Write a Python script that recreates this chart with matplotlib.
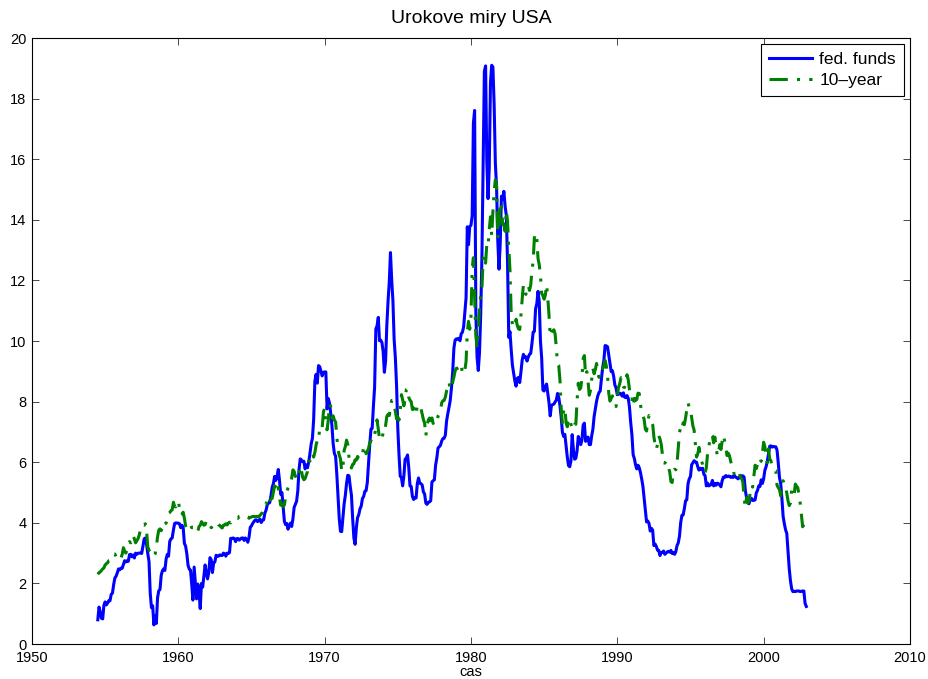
import numpy as np
import pandas as pd
import matplotlib
matplotlib.use("Agg")
import matplotlib.pyplot as plt

plt.rcParams['font.family'] = ['Liberation Sans', 'DejaVu Sans']

# Monthly effective federal funds rate, Jul 1954 - Dec 2002 (percent)
fed_start = '1954-07'
fed_funds = [
    0.80, 1.22, 1.06, 0.85, 0.83, 1.28,
    1.39, 1.29, 1.35, 1.43, 1.43, 1.64, 1.68, 1.96, 2.18, 2.24, 2.35, 2.48,
    2.45, 2.50, 2.50, 2.62, 2.75, 2.71, 2.75, 2.73, 2.95, 2.96, 2.88, 2.94,
    2.84, 3.00, 2.96, 3.00, 3.00, 3.00, 2.99, 3.24, 3.47, 3.50, 3.28, 2.98,
    2.72, 1.67, 1.20, 1.26, 0.63, 0.93, 0.68, 1.53, 1.76, 1.80, 2.27, 2.42,
    2.48, 2.43, 2.80, 2.96, 2.90, 3.39, 3.47, 3.50, 3.76, 3.98, 4.00, 3.99,
    3.99, 3.97, 3.84, 3.92, 3.85, 3.32, 3.23, 2.98, 2.60, 2.47, 2.44, 1.98,
    1.45, 2.54, 2.02, 1.49, 1.98, 1.73, 1.17, 2.00, 1.88, 2.26, 2.61, 2.33,
    2.15, 2.37, 2.85, 2.78, 2.36, 2.68, 2.71, 2.93, 2.90, 2.90, 2.94, 2.93,
    2.92, 3.00, 2.98, 2.90, 3.00, 2.99, 3.02, 3.49, 3.48, 3.50, 3.48, 3.38,
    3.48, 3.48, 3.43, 3.47, 3.50, 3.50, 3.42, 3.50, 3.45, 3.36, 3.52, 3.85,
    3.90, 3.98, 4.04, 4.09, 4.10, 4.04, 4.09, 4.12, 4.01, 4.08, 4.10, 4.32,
    4.42, 4.60, 4.65, 4.67, 4.90, 5.17, 5.30, 5.53, 5.40, 5.53, 5.76, 5.40,
    4.94, 5.00, 4.53, 4.05, 3.94, 3.98, 3.79, 3.90, 3.99, 3.88, 4.13, 4.51,
    4.61, 4.71, 5.05, 5.76, 6.11, 6.07, 6.02, 6.03, 5.78, 5.91, 5.82, 6.02,
    6.30, 6.61, 6.79, 7.41, 8.67, 8.90, 8.61, 9.19, 9.15, 9.00, 8.85, 8.97,
    8.98, 8.98, 7.76, 8.10, 7.95, 7.61, 7.21, 6.61, 6.29, 6.20, 5.60, 4.90,
    4.14, 3.72, 3.71, 4.16, 4.63, 4.91, 5.31, 5.57, 5.55, 5.20, 4.91, 4.14,
    3.50, 3.29, 3.83, 4.17, 4.27, 4.46, 4.55, 4.80, 4.87, 5.04, 5.06, 5.33,
    5.94, 6.58, 7.09, 7.12, 7.84, 8.49, 10.40, 10.50, 10.78, 10.01, 10.03, 9.95,
    9.65, 8.97, 9.35, 10.51, 11.31, 11.93, 12.92, 12.01, 11.34, 10.06, 9.45, 8.53,
    7.13, 6.24, 5.54, 5.49, 5.22, 5.55, 6.10, 6.14, 6.24, 5.82, 5.22, 5.20,
    4.87, 4.77, 4.84, 4.82, 5.29, 5.48, 5.31, 5.29, 5.25, 5.02, 4.95, 4.65,
    4.61, 4.68, 4.69, 4.73, 5.35, 5.39, 5.42, 5.90, 6.14, 6.47, 6.51, 6.56,
    6.70, 6.78, 6.79, 6.89, 7.36, 7.60, 7.81, 8.04, 8.45, 8.96, 9.76, 10.03,
    10.07, 10.06, 10.09, 10.01, 10.24, 10.29, 10.47, 10.94, 11.43, 13.77, 13.18, 13.78,
    13.82, 14.13, 17.19, 17.61, 10.98, 9.47, 9.03, 9.61, 10.87, 12.81, 15.85, 18.90,
    19.08, 15.93, 14.70, 15.72, 18.52, 19.10, 19.04, 17.82, 15.87, 15.08, 13.31, 12.37,
    13.22, 14.78, 14.68, 14.94, 14.45, 14.15, 12.59, 10.12, 10.31, 9.71, 9.20, 8.95,
    8.68, 8.51, 8.77, 8.80, 8.63, 8.98, 9.37, 9.56, 9.45, 9.48, 9.34, 9.47,
    9.56, 9.59, 9.91, 10.29, 10.32, 11.06, 11.23, 11.64, 11.30, 9.99, 9.43, 8.38,
    8.35, 8.50, 8.58, 8.27, 7.97, 7.53, 7.88, 7.90, 7.92, 7.99, 8.05, 8.27,
    8.14, 7.86, 7.48, 6.99, 6.85, 6.92, 6.56, 6.17, 5.89, 5.85, 6.04, 6.91,
    6.43, 6.10, 6.13, 6.37, 6.85, 6.73, 6.58, 6.73, 7.22, 7.29, 6.69, 6.77,
    6.83, 6.58, 6.58, 6.87, 7.09, 7.51, 7.75, 8.01, 8.19, 8.30, 8.35, 8.76,
    9.12, 9.36, 9.85, 9.84, 9.81, 9.53, 9.24, 8.99, 9.02, 8.84, 8.55, 8.45,
    8.23, 8.24, 8.28, 8.26, 8.18, 8.29, 8.15, 8.13, 8.20, 8.11, 7.81, 7.31,
    6.91, 6.25, 6.12, 5.91, 5.78, 5.90, 5.82, 5.66, 5.45, 5.21, 4.81, 4.43,
    4.03, 4.06, 3.98, 3.73, 3.82, 3.76, 3.25, 3.30, 3.22, 3.10, 3.09, 2.92,
    3.02, 3.03, 3.07, 2.96, 3.00, 3.04, 3.06, 3.03, 3.09, 2.99, 3.02, 2.96,
    3.05, 3.25, 3.34, 3.56, 4.01, 4.25, 4.26, 4.47, 4.73, 4.76, 5.29, 5.45,
    5.53, 5.92, 5.98, 6.05, 6.01, 6.00, 5.85, 5.74, 5.80, 5.76, 5.80, 5.60,
    5.56, 5.22, 5.31, 5.22, 5.24, 5.27, 5.40, 5.22, 5.30, 5.24, 5.31, 5.29,
    5.25, 5.19, 5.39, 5.51, 5.50, 5.56, 5.52, 5.54, 5.54, 5.50, 5.52, 5.50,
    5.56, 5.51, 5.49, 5.45, 5.49, 5.56, 5.54, 5.55, 5.51, 5.07, 4.83, 4.68,
    4.63, 4.76, 4.81, 4.74, 4.74, 4.76, 4.99, 5.07, 5.22, 5.20, 5.42, 5.30,
    5.45, 5.73, 5.85, 6.02, 6.27, 6.53, 6.54, 6.50, 6.52, 6.51, 6.51, 6.40,
    5.98, 5.49, 5.31, 4.80, 4.21, 3.97, 3.77, 3.65, 3.07, 2.49, 2.09, 1.82,
    1.73, 1.74, 1.73, 1.75, 1.75, 1.75, 1.73, 1.74, 1.75, 1.75, 1.34, 1.24,
]

# Monthly 10-year treasury yield, Jul 1954 - Oct 2002 (percent)
tenyr_start = '1954-07'
ten_year = [
    2.30, 2.36, 2.38, 2.43, 2.48, 2.51,
    2.61, 2.65, 2.68, 2.75, 2.76, 2.78, 2.90, 2.97, 2.97, 2.88, 2.89, 2.96,
    2.90, 2.84, 2.96, 3.18, 3.07, 3.00, 3.11, 3.33, 3.38, 3.34, 3.49, 3.59,
    3.46, 3.34, 3.41, 3.48, 3.60, 3.80, 3.93, 3.93, 3.92, 3.97, 3.72, 3.21,
    3.09, 3.05, 2.98, 2.88, 2.92, 2.97, 3.20, 3.54, 3.76, 3.80, 3.74, 3.86,
    4.02, 3.96, 3.99, 4.12, 4.31, 4.34, 4.40, 4.43, 4.68, 4.53, 4.53, 4.69,
    4.72, 4.49, 4.25, 4.28, 4.35, 4.15, 3.90, 3.80, 3.80, 3.89, 3.93, 3.84,
    3.84, 3.78, 3.74, 3.78, 3.71, 3.88, 3.92, 4.04, 3.98, 3.92, 3.94, 4.06,
    4.08, 4.04, 3.93, 3.84, 3.87, 3.91, 4.01, 3.98, 3.98, 3.93, 3.92, 3.86,
    3.83, 3.92, 3.93, 3.97, 3.93, 3.99, 4.02, 4.00, 4.08, 4.11, 4.12, 4.13,
    4.17, 4.15, 4.22, 4.23, 4.20, 4.17, 4.19, 4.19, 4.20, 4.19, 4.15, 4.18,
    4.19, 4.21, 4.21, 4.20, 4.21, 4.21, 4.20, 4.25, 4.29, 4.35, 4.45, 4.62,
    4.61, 4.83, 4.87, 4.75, 4.78, 4.81, 5.02, 5.22, 5.18, 5.01, 5.16, 4.84,
    4.58, 4.63, 4.54, 4.59, 4.85, 5.02, 5.16, 5.28, 5.30, 5.48, 5.75, 5.70,
    5.53, 5.56, 5.74, 5.64, 5.87, 5.72, 5.50, 5.42, 5.46, 5.58, 5.70, 6.03,
    6.04, 6.19, 6.30, 6.17, 6.32, 6.57, 6.72, 6.69, 7.16, 7.10, 7.14, 7.65,
    7.79, 7.24, 7.07, 7.39, 7.91, 7.84, 7.46, 7.53, 7.39, 7.33, 6.84, 6.39,
    6.24, 6.11, 5.70, 5.83, 6.39, 6.52, 6.73, 6.58, 6.14, 5.93, 5.81, 5.93,
    5.95, 6.08, 6.07, 6.19, 6.13, 6.11, 6.11, 6.21, 6.55, 6.48, 6.28, 6.36,
    6.46, 6.64, 6.71, 6.67, 6.85, 6.90, 7.13, 7.40, 7.09, 6.79, 6.73, 6.74,
    6.99, 6.96, 7.21, 7.51, 7.58, 7.54, 7.81, 8.04, 8.04, 7.90, 7.68, 7.43,
    7.50, 7.39, 7.73, 8.23, 8.06, 7.86, 8.06, 8.40, 8.43, 8.14, 8.05, 8.00,
    7.74, 7.79, 7.73, 7.56, 7.90, 7.86, 7.83, 7.77, 7.59, 7.41, 7.29, 6.87,
    7.21, 7.39, 7.46, 7.37, 7.46, 7.28, 7.33, 7.40, 7.34, 7.52, 7.58, 7.69,
    7.96, 8.03, 8.04, 8.15, 8.35, 8.46, 8.64, 8.41, 8.42, 8.64, 8.81, 9.01,
    9.10, 9.10, 9.12, 9.18, 9.25, 8.91, 8.95, 9.03, 9.33, 10.30, 10.65, 10.39,
    10.80, 12.41, 12.75, 11.47, 10.18, 9.78, 10.25, 11.10, 11.51, 11.75, 12.68, 12.84,
    12.57, 13.19, 13.12, 13.68, 14.10, 13.47, 14.28, 14.94, 15.32, 15.15, 13.39, 13.72,
    14.59, 14.43, 13.86, 13.87, 13.62, 14.30, 13.95, 13.06, 12.34, 10.91, 10.55, 10.54,
    10.46, 10.72, 10.51, 10.40, 10.38, 10.85, 11.38, 11.85, 11.65, 11.54, 11.69, 11.83,
    11.67, 11.84, 12.32, 12.63, 13.41, 13.56, 13.36, 12.72, 12.52, 12.16, 11.57, 11.50,
    11.38, 11.51, 11.86, 11.43, 10.85, 10.16, 10.31, 10.33, 10.37, 10.24, 9.78, 9.26,
    9.19, 8.70, 7.78, 7.30, 7.71, 7.80, 7.30, 7.17, 7.45, 7.43, 7.25, 7.11,
    7.08, 7.25, 7.25, 8.02, 8.61, 8.40, 8.45, 8.76, 9.42, 9.52, 8.86, 8.99,
    8.67, 8.21, 8.37, 8.72, 9.09, 8.92, 9.06, 9.26, 8.98, 8.80, 8.96, 9.11,
    9.09, 9.17, 9.36, 9.18, 8.86, 8.28, 8.02, 8.11, 8.19, 8.01, 7.87, 7.84,
    8.21, 8.47, 8.59, 8.79, 8.76, 8.48, 8.47, 8.75, 8.89, 8.72, 8.39, 8.08,
    8.09, 7.85, 8.11, 8.04, 8.07, 8.28, 8.27, 7.90, 7.65, 7.53, 7.42, 7.09,
    7.03, 7.34, 7.54, 7.48, 7.39, 7.26, 6.84, 6.59, 6.42, 6.59, 6.87, 6.77,
    6.60, 6.26, 5.98, 5.97, 6.04, 5.96, 5.81, 5.68, 5.36, 5.33, 5.72, 5.77,
    5.75, 5.97, 6.48, 6.97, 7.18, 7.10, 7.30, 7.24, 7.46, 7.74, 7.96, 7.81,
    7.78, 7.47, 7.20, 7.06, 6.63, 6.17, 6.28, 6.49, 6.20, 6.04, 5.93, 5.71,
    5.65, 5.81, 6.27, 6.51, 6.74, 6.91, 6.87, 6.64, 6.83, 6.53, 6.20, 6.30,
    6.58, 6.42, 6.69, 6.89, 6.71, 6.49, 6.22, 6.30, 6.21, 6.03, 5.88, 5.81,
    5.54, 5.57, 5.65, 5.64, 5.65, 5.50, 5.46, 5.34, 4.81, 4.53, 4.83, 4.65,
    4.72, 5.00, 5.23, 5.18, 5.54, 5.90, 5.79, 5.94, 5.92, 6.11, 6.03, 6.28,
    6.66, 6.52, 6.26, 5.99, 6.44, 6.10, 6.05, 5.83, 5.80, 5.74, 5.72, 5.24,
    5.16, 5.10, 4.89, 5.14, 5.39, 5.28, 5.24, 4.97, 4.73, 4.57, 4.65, 5.09,
    5.04, 4.91, 5.28, 5.21, 5.16, 4.93, 4.65, 4.26, 3.87, 3.94,
]


def decimal_years(start, n):
    # month index -> fractional year (Jan = .0, Feb = 1/12, ...)
    idx = pd.period_range(start=start, periods=n, freq='M')
    return idx.year + (idx.month - 1) / 12.0


t_fed = decimal_years(fed_start, len(fed_funds))
t_ten = decimal_years(tenyr_start, len(ten_year))

fig = plt.figure(figsize=(9.29, 6.79), dpi=100)
ax = fig.add_axes([0.0344, 0.0515, 0.9451, 0.8925])

ax.plot(t_fed, fed_funds, color='#0000ff', linewidth=2.2, label='fed. funds')
ax.plot(t_ten, ten_year, color='#008000', linewidth=2.2, linestyle='-.',
        dashes=(6, 3, 1, 3), label='10\u2013year')

ax.set_xlim(1950, 2010)
ax.set_ylim(0, 20)
ax.set_xticks(np.arange(1950, 2011, 10))
ax.set_yticks(np.arange(0, 21, 2))
ax.tick_params(direction='in', length=5, width=0.5, top=True, right=True,
               labelsize=10.5)
ax.tick_params(axis='x', pad=5)
ax.tick_params(axis='y', pad=4)
for side in ax.spines.values():
    side.set_linewidth(0.8)

ax.set_title('Urokove miry USA', fontsize=14, pad=11)
ax.set_xlabel('cas', fontsize=10.5, labelpad=0)

leg = ax.legend(loc='upper right', fontsize=12.5, handlelength=2.5,
                borderaxespad=0.35, fancybox=False, framealpha=1,
                borderpad=0.45, labelspacing=0.35, handletextpad=0.4)
leg.get_frame().set_edgecolor('black')
leg.get_frame().set_linewidth(0.8)

fig.savefig('out.png', dpi=100)
